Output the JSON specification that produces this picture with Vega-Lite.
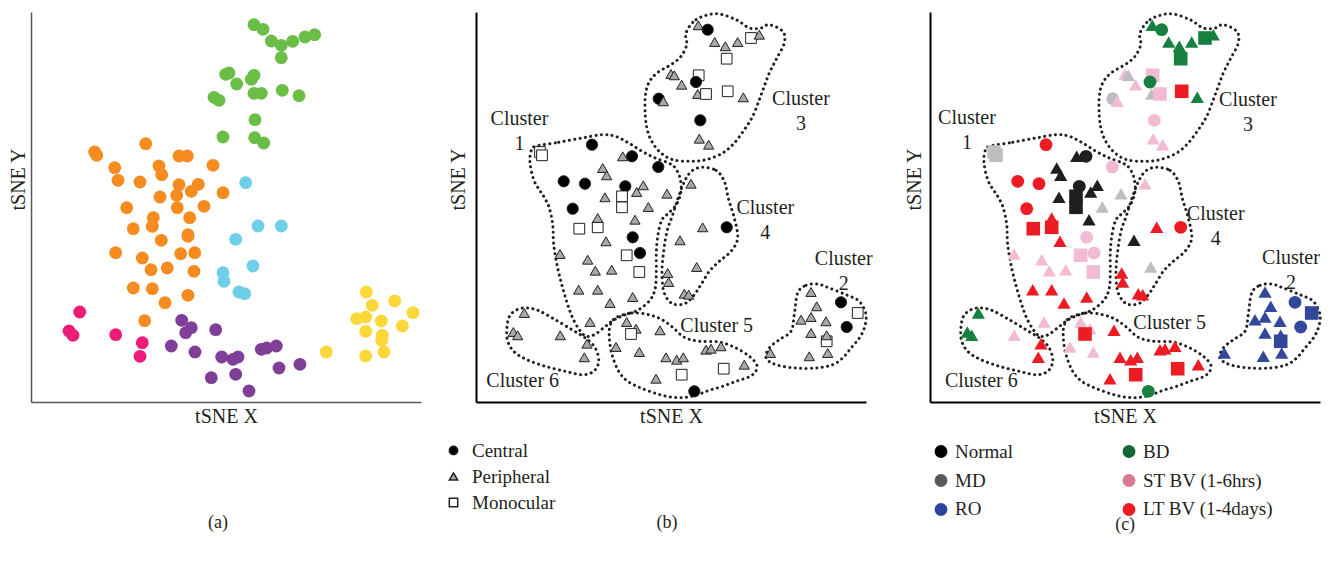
{
  "$schema": "https://vega.github.io/schema/vega-lite/v6.json",
  "background": "white",
  "padding": {"left": 8, "top": 7, "right": 5, "bottom": 5},
  "config": {
    "view": {"stroke": null},
    "font": "Liberation Serif",
    "axis": {"ticks": false, "labels": false, "grid": false, "titleFont": "Liberation Serif", "titleFontSize": 20, "titleFontWeight": "normal", "titleColor": "#231f20"},
    "title": {"font": "Liberation Serif", "fontSize": 18, "fontWeight": "normal", "color": "#231f20", "orient": "bottom", "anchor": "middle"},
    "legend": {"labelFont": "Liberation Serif", "labelFontSize": 19, "labelColor": "#231f20"}
  },
  "datasets": {
    "tsneA": [
      {"x":223,"y":377.3,"cl":"3"},{"x":232,"y":372.7,"cl":"3"},{"x":240.3,"y":361,"cl":"3"},{"x":250.3,"y":356.7,"cl":"3"},{"x":261.7,"y":360.7,"cl":"3"},{"x":274,"y":365,"cl":"3"},{"x":283.7,"y":367.3,"cl":"3"},{"x":250.3,"y":344.3,"cl":"3"},{"x":194.7,"y":327.7,"cl":"3"},{"x":198,"y":329,"cl":"3"},{"x":205.7,"y":318,"cl":"3"},{"x":220.3,"y":322.7,"cl":"3"},{"x":223,"y":326.7,"cl":"3"},{"x":223,"y":308.7,"cl":"3"},{"x":230.3,"y":308.7,"cl":"3"},{"x":251.3,"y":311.7,"cl":"3"},{"x":268,"y":306.3,"cl":"3"},{"x":183,"y":304.7,"cl":"3"},{"x":188,"y":301.7,"cl":"3"},{"x":224,"y":282.3,"cl":"3"},{"x":192,"y":265,"cl":"3"},{"x":223.7,"y":264.3,"cl":"3"},{"x":232.7,"y":259,"cl":"3"},
      {"x":114.7,"y":258.3,"cl":"1"},{"x":63.7,"y":250,"cl":"1"},{"x":65.7,"y":246.7,"cl":"1"},{"x":148,"y":246,"cl":"1"},{"x":156.3,"y":246,"cl":"1"},{"x":83.7,"y":234.3,"cl":"1"},{"x":128,"y":236,"cl":"1"},{"x":130.7,"y":227.3,"cl":"1"},{"x":182,"y":236.7,"cl":"1"},{"x":87,"y":221.7,"cl":"1"},{"x":109,"y":220,"cl":"1"},{"x":148,"y":217.3,"cl":"1"},{"x":167.3,"y":217.7,"cl":"1"},{"x":160.3,"y":210.7,"cl":"1"},{"x":145.7,"y":206.7,"cl":"1"},{"x":129,"y":205,"cl":"1"},{"x":192,"y":209.3,"cl":"1"},{"x":95.7,"y":194.3,"cl":"1"},{"x":146.3,"y":194.3,"cl":"1"},{"x":173,"y":195.7,"cl":"1"},{"x":122.3,"y":184.3,"cl":"1"},{"x":158.7,"y":184.3,"cl":"1"},{"x":102.3,"y":173.3,"cl":"1"},{"x":121.3,"y":175.7,"cl":"1"},{"x":157,"y":167.3,"cl":"1"},{"x":157,"y":165.7,"cl":"1"},{"x":130.3,"y":161.7,"cl":"1"},{"x":84.7,"y":149.3,"cl":"1"},{"x":149.7,"y":148.3,"cl":"1"},{"x":163.7,"y":149.3,"cl":"1"},{"x":111.3,"y":144,"cl":"1"},{"x":120,"y":132.3,"cl":"1"},{"x":136.3,"y":134,"cl":"1"},{"x":163,"y":130.7,"cl":"1"},{"x":102.3,"y":114,"cl":"1"},{"x":121.3,"y":113.3,"cl":"1"},{"x":157,"y":106.7,"cl":"1"},{"x":134,"y":99.3,"cl":"1"},{"x":113.7,"y":81.3,"cl":"1"},
      {"x":214.7,"y":219.3,"cl":"4"},{"x":227,"y":176,"cl":"4"},{"x":250.3,"y":176,"cl":"4"},{"x":204.7,"y":162.7,"cl":"4"},{"x":222,"y":136,"cl":"4"},{"x":192,"y":129.3,"cl":"4"},{"x":193,"y":120.7,"cl":"4"},{"x":208,"y":110,"cl":"4"},{"x":213.7,"y":108.3,"cl":"4"},
      {"x":48.7,"y":90,"cl":"6"},{"x":38,"y":71,"cl":"6"},{"x":42,"y":66.7,"cl":"6"},{"x":84.7,"y":67.3,"cl":"6"},{"x":111.3,"y":59.3,"cl":"6"},{"x":109,"y":45.7,"cl":"6"},
      {"x":150.7,"y":81.7,"cl":"5"},{"x":160.3,"y":74.3,"cl":"5"},{"x":154.7,"y":69.3,"cl":"5"},{"x":184.7,"y":72.3,"cl":"5"},{"x":140.3,"y":56,"cl":"5"},{"x":164,"y":50,"cl":"5"},{"x":190.7,"y":45,"cl":"5"},{"x":202,"y":42.7,"cl":"5"},{"x":207,"y":45,"cl":"5"},{"x":230.3,"y":52.7,"cl":"5"},{"x":235.7,"y":54,"cl":"5"},{"x":245.3,"y":56,"cl":"5"},{"x":269,"y":37.7,"cl":"5"},{"x":248,"y":34,"cl":"5"},{"x":204.7,"y":27.7,"cl":"5"},{"x":180.3,"y":24.3,"cl":"5"},{"x":218,"y":11,"cl":"5"},
      {"x":335.3,"y":110,"cl":"2"},{"x":341.3,"y":96.7,"cl":"2"},{"x":363.7,"y":101,"cl":"2"},{"x":382,"y":89.3,"cl":"2"},{"x":325.7,"y":83.3,"cl":"2"},{"x":334.7,"y":85,"cl":"2"},{"x":350.3,"y":81,"cl":"2"},{"x":371.3,"y":76,"cl":"2"},{"x":334.7,"y":70.7,"cl":"2"},{"x":351.3,"y":66.7,"cl":"2"},{"x":350.7,"y":61.7,"cl":"2"},{"x":295.3,"y":50,"cl":"2"},{"x":334.7,"y":46,"cl":"2"},{"x":353,"y":50,"cl":"2"}
    ],
    "points": [
      {"x":222.3,"y":376.7,"type":"Peripheral","group":"BD"},
      {"x":231.7,"y":372.3,"type":"Central","group":"BD"},
      {"x":238.7,"y":360,"type":"Peripheral","group":"BD"},
      {"x":249.3,"y":355.7,"type":"Peripheral","group":"BD"},
      {"x":261.7,"y":360,"type":"Peripheral","group":"BD"},
      {"x":275,"y":364,"type":"Monocular","group":"BD"},
      {"x":283.3,"y":367.3,"type":"Peripheral","group":"BD"},
      {"x":250.7,"y":343.3,"type":"Monocular","group":"BD"},
      {"x":195,"y":328,"type":"Peripheral","group":"ST BV (1-6hrs)"},
      {"x":198.3,"y":326.7,"type":"Peripheral","group":"MD"},
      {"x":205.7,"y":317.3,"type":"Peripheral","group":"ST BV (1-6hrs)"},
      {"x":222.7,"y":326.7,"type":"Monocular","group":"ST BV (1-6hrs)"},
      {"x":220,"y":320,"type":"Central","group":"BD"},
      {"x":221.7,"y":308,"type":"Peripheral","group":"MD"},
      {"x":230,"y":308,"type":"Monocular","group":"ST BV (1-6hrs)"},
      {"x":251.7,"y":310.7,"type":"Monocular","group":"LT BV (1-4days)"},
      {"x":267.3,"y":304.7,"type":"Peripheral","group":"BD"},
      {"x":182.7,"y":303.3,"type":"Central","group":"MD"},
      {"x":187.3,"y":300.7,"type":"Peripheral","group":"ST BV (1-6hrs)"},
      {"x":224.3,"y":281.7,"type":"Central","group":"ST BV (1-6hrs)"},
      {"x":223.3,"y":263.3,"type":"Peripheral","group":"ST BV (1-6hrs)"},
      {"x":232.7,"y":257.3,"type":"Peripheral","group":"ST BV (1-6hrs)"},
      {"x":64,"y":250,"type":"Monocular","group":"MD"},
      {"x":66,"y":246.7,"type":"Monocular","group":"MD"},
      {"x":116,"y":257.3,"type":"Central","group":"LT BV (1-4days)"},
      {"x":146.7,"y":245.7,"type":"Peripheral","group":"Normal"},
      {"x":156,"y":245.7,"type":"Central","group":"Normal"},
      {"x":182.3,"y":235,"type":"Central","group":"ST BV (1-6hrs)"},
      {"x":126.7,"y":234,"type":"Peripheral","group":"Normal"},
      {"x":130.7,"y":226.7,"type":"Peripheral","group":"Normal"},
      {"x":87.7,"y":220.7,"type":"Central","group":"LT BV (1-4days)"},
      {"x":109,"y":218.3,"type":"Central","group":"LT BV (1-4days)"},
      {"x":149.3,"y":215.7,"type":"Central","group":"Normal"},
      {"x":167.3,"y":216.7,"type":"Peripheral","group":"Normal"},
      {"x":160.7,"y":210,"type":"Peripheral","group":"Normal"},
      {"x":129,"y":204.7,"type":"Peripheral","group":"Normal"},
      {"x":146,"y":205.7,"type":"Monocular","group":"Normal"},
      {"x":146,"y":194.7,"type":"Monocular","group":"Normal"},
      {"x":191,"y":208.3,"type":"Peripheral","group":"MD"},
      {"x":215,"y":218.3,"type":"Peripheral","group":"ST BV (1-6hrs)"},
      {"x":96.7,"y":193.3,"type":"Central","group":"LT BV (1-4days)"},
      {"x":172.3,"y":195,"type":"Peripheral","group":"MD"},
      {"x":159,"y":182.3,"type":"Peripheral","group":"Normal"},
      {"x":103.3,"y":173.3,"type":"Monocular","group":"LT BV (1-4days)"},
      {"x":121.7,"y":174.7,"type":"Monocular","group":"LT BV (1-4days)"},
      {"x":121.7,"y":184,"type":"Peripheral","group":"LT BV (1-4days)"},
      {"x":156.7,"y":164.7,"type":"Central","group":"ST BV (1-6hrs)"},
      {"x":130,"y":160.7,"type":"Peripheral","group":"LT BV (1-4days)"},
      {"x":164,"y":149,"type":"Central","group":"ST BV (1-6hrs)"},
      {"x":150.7,"y":146.7,"type":"Monocular","group":"ST BV (1-6hrs)"},
      {"x":163.3,"y":130,"type":"Monocular","group":"ST BV (1-6hrs)"},
      {"x":84,"y":148,"type":"Peripheral","group":"ST BV (1-6hrs)"},
      {"x":111.7,"y":142.3,"type":"Peripheral","group":"ST BV (1-6hrs)"},
      {"x":119.3,"y":131.3,"type":"Peripheral","group":"ST BV (1-6hrs)"},
      {"x":135.7,"y":132.3,"type":"Peripheral","group":"ST BV (1-6hrs)"},
      {"x":102.7,"y":112.3,"type":"Peripheral","group":"LT BV (1-4days)"},
      {"x":121.7,"y":112.3,"type":"Peripheral","group":"LT BV (1-4days)"},
      {"x":134,"y":99,"type":"Peripheral","group":"LT BV (1-4days)"},
      {"x":156.7,"y":105,"type":"Peripheral","group":"LT BV (1-4days)"},
      {"x":114,"y":80,"type":"Peripheral","group":"ST BV (1-6hrs)"},
      {"x":204,"y":161.7,"type":"Peripheral","group":"Normal"},
      {"x":226.7,"y":174.7,"type":"Peripheral","group":"LT BV (1-4days)"},
      {"x":250.7,"y":174.7,"type":"Central","group":"LT BV (1-4days)"},
      {"x":220.7,"y":135,"type":"Peripheral","group":"MD"},
      {"x":191.7,"y":129,"type":"Peripheral","group":"LT BV (1-4days)"},
      {"x":192.7,"y":120,"type":"Peripheral","group":"LT BV (1-4days)"},
      {"x":208.3,"y":108.3,"type":"Peripheral","group":"LT BV (1-4days)"},
      {"x":212.7,"y":107.3,"type":"Peripheral","group":"LT BV (1-4days)"},
      {"x":150.7,"y":80,"type":"Peripheral","group":"ST BV (1-6hrs)"},
      {"x":160,"y":73.3,"type":"Peripheral","group":"ST BV (1-6hrs)"},
      {"x":155,"y":68,"type":"Monocular","group":"LT BV (1-4days)"},
      {"x":184,"y":71.7,"type":"Peripheral","group":"LT BV (1-4days)"},
      {"x":140,"y":55,"type":"Peripheral","group":"ST BV (1-6hrs)"},
      {"x":163.3,"y":50,"type":"Peripheral","group":"ST BV (1-6hrs)"},
      {"x":190,"y":44.7,"type":"Peripheral","group":"LT BV (1-4days)"},
      {"x":200.7,"y":42.3,"type":"Peripheral","group":"LT BV (1-4days)"},
      {"x":207.3,"y":44.7,"type":"Peripheral","group":"LT BV (1-4days)"},
      {"x":230,"y":52.3,"type":"Peripheral","group":"LT BV (1-4days)"},
      {"x":235,"y":53.3,"type":"Peripheral","group":"LT BV (1-4days)"},
      {"x":245,"y":55.7,"type":"Peripheral","group":"LT BV (1-4days)"},
      {"x":247.7,"y":33.3,"type":"Monocular","group":"LT BV (1-4days)"},
      {"x":268.3,"y":37.3,"type":"Peripheral","group":"LT BV (1-4days)"},
      {"x":205.7,"y":27.3,"type":"Monocular","group":"LT BV (1-4days)"},
      {"x":180,"y":23.3,"type":"Peripheral","group":"LT BV (1-4days)"},
      {"x":218.3,"y":10.7,"type":"Central","group":"BD"},
      {"x":48.3,"y":89,"type":"Peripheral","group":"BD"},
      {"x":37.3,"y":70,"type":"Peripheral","group":"BD"},
      {"x":41.7,"y":66.7,"type":"Peripheral","group":"BD"},
      {"x":84.3,"y":66.7,"type":"Peripheral","group":"ST BV (1-6hrs)"},
      {"x":111,"y":58.3,"type":"Peripheral","group":"LT BV (1-4days)"},
      {"x":108.3,"y":44.7,"type":"Peripheral","group":"LT BV (1-4days)"},
      {"x":335,"y":110,"type":"Peripheral","group":"RO"},
      {"x":340.7,"y":95.7,"type":"Peripheral","group":"RO"},
      {"x":325,"y":82.3,"type":"Peripheral","group":"RO"},
      {"x":335,"y":85,"type":"Peripheral","group":"RO"},
      {"x":350,"y":80.7,"type":"Peripheral","group":"RO"},
      {"x":335,"y":69,"type":"Peripheral","group":"RO"},
      {"x":350.7,"y":60.7,"type":"Monocular","group":"RO"},
      {"x":350.7,"y":66.7,"type":"Peripheral","group":"RO"},
      {"x":351.7,"y":49,"type":"Peripheral","group":"RO"},
      {"x":333.3,"y":45.7,"type":"Peripheral","group":"RO"},
      {"x":294.3,"y":49,"type":"Peripheral","group":"RO"},
      {"x":365,"y":99.7,"type":"Central","group":"RO"},
      {"x":381.7,"y":89,"type":"Monocular","group":"RO"},
      {"x":370.7,"y":75,"type":"Central","group":"RO"}
    ],
    "outlines": [
      {"c":"1","i":0,"x":59.3,"y":255.7},{"c":"1","i":1,"x":82.7,"y":259.7},{"c":"1","i":2,"x":106,"y":264},{"c":"1","i":3,"x":126,"y":267.3},{"c":"1","i":4,"x":139.3,"y":265.7},{"c":"1","i":5,"x":152.7,"y":259},{"c":"1","i":6,"x":166,"y":250.7},{"c":"1","i":7,"x":179.3,"y":244},{"c":"1","i":8,"x":192.7,"y":239},{"c":"1","i":9,"x":199.3,"y":234},{"c":"1","i":10,"x":204,"y":224},{"c":"1","i":11,"x":205,"y":210.7},{"c":"1","i":12,"x":200.7,"y":198},{"c":"1","i":13,"x":192.7,"y":189},{"c":"1","i":14,"x":186,"y":182.3},{"c":"1","i":15,"x":182,"y":167.3},{"c":"1","i":16,"x":180.3,"y":149},{"c":"1","i":17,"x":180.3,"y":130.7},{"c":"1","i":18,"x":179.3,"y":114},{"c":"1","i":19,"x":174.3,"y":102.3},{"c":"1","i":20,"x":162.7,"y":92.3},{"c":"1","i":21,"x":149.3,"y":87.3},{"c":"1","i":22,"x":138.3,"y":82.3},{"c":"1","i":23,"x":128.3,"y":74.7},{"c":"1","i":24,"x":118.3,"y":67.3},{"c":"1","i":25,"x":110,"y":65.7},{"c":"1","i":26,"x":103.3,"y":72.3},{"c":"1","i":27,"x":96.7,"y":84},{"c":"1","i":28,"x":91.7,"y":97.3},{"c":"1","i":29,"x":86.7,"y":114},{"c":"1","i":30,"x":81.7,"y":134},{"c":"1","i":31,"x":77.7,"y":157.3},{"c":"1","i":32,"x":76.7,"y":177.3},{"c":"1","i":33,"x":73.3,"y":194},{"c":"1","i":34,"x":68.3,"y":204.7},{"c":"1","i":35,"x":63.3,"y":212.3},{"c":"1","i":36,"x":57.7,"y":222.3},{"c":"1","i":37,"x":54,"y":239},{"c":"1","i":38,"x":55,"y":250.7},
      {"c":"2","i":0,"x":321.7,"y":109},{"c":"2","i":1,"x":330,"y":116.7},{"c":"2","i":2,"x":341.7,"y":118},{"c":"2","i":3,"x":353.3,"y":114},{"c":"2","i":4,"x":370,"y":107.3},{"c":"2","i":5,"x":383.3,"y":100.7},{"c":"2","i":6,"x":390,"y":87.3},{"c":"2","i":7,"x":388.3,"y":74},{"c":"2","i":8,"x":383.3,"y":64},{"c":"2","i":9,"x":375,"y":54},{"c":"2","i":10,"x":366.7,"y":44},{"c":"2","i":11,"x":356.7,"y":37.3},{"c":"2","i":12,"x":340,"y":34},{"c":"2","i":13,"x":320,"y":34},{"c":"2","i":14,"x":300,"y":37.3},{"c":"2","i":15,"x":290,"y":44},{"c":"2","i":16,"x":293.3,"y":54},{"c":"2","i":17,"x":303.3,"y":62.3},{"c":"2","i":18,"x":315,"y":70.7},{"c":"2","i":19,"x":318.3,"y":87.3},
      {"c":"3","i":0,"x":210,"y":369},{"c":"3","i":1,"x":220,"y":382.3},{"c":"3","i":2,"x":240,"y":388.3},{"c":"3","i":3,"x":260,"y":382.3},{"c":"3","i":4,"x":273.3,"y":374},{"c":"3","i":5,"x":285,"y":374},{"c":"3","i":6,"x":293.3,"y":377.3},{"c":"3","i":7,"x":306.7,"y":370.7},{"c":"3","i":8,"x":308.3,"y":359},{"c":"3","i":9,"x":300,"y":342.3},{"c":"3","i":10,"x":293.3,"y":329},{"c":"3","i":11,"x":288.3,"y":315.7},{"c":"3","i":12,"x":283.3,"y":302.3},{"c":"3","i":13,"x":276.7,"y":285.7},{"c":"3","i":14,"x":268.3,"y":272.3},{"c":"3","i":15,"x":258.3,"y":259},{"c":"3","i":16,"x":246.7,"y":249},{"c":"3","i":17,"x":230,"y":242.3},{"c":"3","i":18,"x":213.3,"y":240.7},{"c":"3","i":19,"x":196.7,"y":242.3},{"c":"3","i":20,"x":185,"y":249},{"c":"3","i":21,"x":176.7,"y":259},{"c":"3","i":22,"x":171.7,"y":270.7},{"c":"3","i":23,"x":169.3,"y":285.7},{"c":"3","i":24,"x":169.3,"y":305.7},{"c":"3","i":25,"x":172.7,"y":319},{"c":"3","i":26,"x":181,"y":329},{"c":"3","i":27,"x":196,"y":338},{"c":"3","i":28,"x":205,"y":345.7},{"c":"3","i":29,"x":210.7,"y":357.3},
      {"c":"4","i":0,"x":226.7,"y":234.7},{"c":"4","i":1,"x":240,"y":231.7},{"c":"4","i":2,"x":248.3,"y":220.7},{"c":"4","i":3,"x":252.7,"y":202.3},{"c":"4","i":4,"x":258.3,"y":184},{"c":"4","i":5,"x":261.7,"y":164},{"c":"4","i":6,"x":255,"y":150.7},{"c":"4","i":7,"x":243.3,"y":140.7},{"c":"4","i":8,"x":233.3,"y":130.7},{"c":"4","i":9,"x":225,"y":117.3},{"c":"4","i":10,"x":218.3,"y":107.3},{"c":"4","i":11,"x":210,"y":99},{"c":"4","i":12,"x":200,"y":97.3},{"c":"4","i":13,"x":192.7,"y":101.3},{"c":"4","i":14,"x":187.3,"y":112.3},{"c":"4","i":15,"x":186,"y":130.7},{"c":"4","i":16,"x":187.7,"y":150.7},{"c":"4","i":17,"x":191,"y":170.7},{"c":"4","i":18,"x":196.7,"y":187.3},{"c":"4","i":19,"x":202.7,"y":205.7},{"c":"4","i":20,"x":209.3,"y":222.3},{"c":"4","i":21,"x":216.7,"y":231.7},
      {"c":"5","i":0,"x":139.3,"y":84},{"c":"5","i":1,"x":156,"y":89},{"c":"5","i":2,"x":172.7,"y":87.3},{"c":"5","i":3,"x":186,"y":82.3},{"c":"5","i":4,"x":196.7,"y":74.7},{"c":"5","i":5,"x":208.3,"y":64.7},{"c":"5","i":6,"x":223.3,"y":60.7},{"c":"5","i":7,"x":243.3,"y":60},{"c":"5","i":8,"x":260,"y":54},{"c":"5","i":9,"x":273.3,"y":45.7},{"c":"5","i":10,"x":280.7,"y":37.3},{"c":"5","i":11,"x":279.3,"y":30},{"c":"5","i":12,"x":272.7,"y":25},{"c":"5","i":13,"x":260,"y":20.7},{"c":"5","i":14,"x":246.7,"y":15.7},{"c":"5","i":15,"x":233.3,"y":11.7},{"c":"5","i":16,"x":221.7,"y":7.3},{"c":"5","i":17,"x":210,"y":4.7},{"c":"5","i":18,"x":196.7,"y":4.7},{"c":"5","i":19,"x":181.7,"y":8},{"c":"5","i":20,"x":165,"y":14},{"c":"5","i":21,"x":151.7,"y":20.7},{"c":"5","i":22,"x":142.7,"y":30.7},{"c":"5","i":23,"x":136,"y":47.3},{"c":"5","i":24,"x":133.3,"y":64},{"c":"5","i":25,"x":134,"y":75.7},
      {"c":"6","i":0,"x":32.7,"y":84},{"c":"6","i":1,"x":41,"y":92.3},{"c":"6","i":2,"x":51,"y":94},{"c":"6","i":3,"x":62.7,"y":91.3},{"c":"6","i":4,"x":79.3,"y":82.3},{"c":"6","i":5,"x":96,"y":72.3},{"c":"6","i":6,"x":109.3,"y":64},{"c":"6","i":7,"x":119.3,"y":54},{"c":"6","i":8,"x":122.7,"y":40.7},{"c":"6","i":9,"x":117.7,"y":30.7},{"c":"6","i":10,"x":106,"y":27.3},{"c":"6","i":11,"x":89.3,"y":30.7},{"c":"6","i":12,"x":69.3,"y":35.7},{"c":"6","i":13,"x":51,"y":42.3},{"c":"6","i":14,"x":37.7,"y":50.7},{"c":"6","i":15,"x":31,"y":64}
    ],
    "labelsB": [
      {"label":"Cluster\n1","x":43.5,"y":283.2},
      {"label":"Cluster\n2","x":367.7,"y":143.5},
      {"label":"Cluster\n3","x":325,"y":302.7},
      {"label":"Cluster\n4","x":289.3,"y":193.7},
      {"label":"Cluster 5","x":240.7,"y":75.7},
      {"label":"Cluster 6","x":46.7,"y":20.7}
    ],
    "labelsC": [
      {"label":"Cluster\n1","x":37,"y":283.8},
      {"label":"Cluster\n2","x":361,"y":144.5},
      {"label":"Cluster\n3","x":318,"y":302.3},
      {"label":"Cluster\n4","x":285.7,"y":187.7},
      {"label":"Cluster 5","x":239.7,"y":79.3},
      {"label":"Cluster 6","x":51.3,"y":21}
    ],
    "keyC": [
      {"group":"Normal","col":0,"row":0},
      {"group":"MD","col":0,"row":1},
      {"group":"RO","col":0,"row":2},
      {"group":"BD","col":1,"row":0},
      {"group":"ST BV (1-6hrs)","col":1,"row":1},
      {"group":"LT BV (1-4days)","col":1,"row":2}
    ]
  },
  "hconcat": [
    {
      "width": 390,
      "height": 390,
      "title": {"text": "(a)", "offset": 88, "dx": -8},
      "data": {"name": "tsneA"},
      "mark": {"type": "point", "filled": true, "opacity": 1, "size": 165},
      "encoding": {
        "x": {"field": "x", "type": "quantitative", "scale": {"domain": [0, 390], "nice": false, "zero": false},
              "axis": {"title": "tSNE X", "domainColor": "#58595b", "domainWidth": 1.5, "titlePadding": 4}},
        "y": {"field": "y", "type": "quantitative", "scale": {"domain": [0, 390], "nice": false, "zero": false},
              "axis": {"title": "tSNE Y", "domainColor": "#58595b", "domainWidth": 1.5, "titlePadding": 3, "titleY": 167}},
        "color": {"field": "cl", "type": "nominal", "legend": null,
                  "scale": {"domain": ["1", "2", "3", "4", "5", "6"],
                            "range": ["#f68b1f", "#fbd73a", "#6abd45", "#6dcfe8", "#7f3f98", "#ec1c78"]}}
      }
    },
    {
      "hconcat": [
        {
          "width": 390,
          "height": 390,
          "title": {"text": "(b)", "offset": 1, "dx": -4},
          "encoding": {
            "x": {"field": "x", "type": "quantitative", "scale": {"domain": [0, 390], "nice": false, "zero": false},
                  "axis": {"title": "tSNE X", "domainColor": "#000000", "domainWidth": 2, "titlePadding": 4}},
            "y": {"field": "y", "type": "quantitative", "scale": {"domain": [0, 390], "nice": false, "zero": false},
                  "axis": {"title": "tSNE Y", "domainColor": "#000000", "domainWidth": 2, "titlePadding": 8, "titleY": 167}}
          },
          "layer": [
            {
              "data": {"name": "outlines"},
              "mark": {"type": "line", "interpolate": "cardinal-closed", "strokeDash": [0.1, 5.3], "strokeCap": "round", "strokeWidth": 3, "color": "#231f20"},
              "encoding": {"detail": {"field": "c"}, "order": {"field": "i", "type": "quantitative"}}
            },
            {
              "data": {"name": "points"},
              "mark": {"type": "point", "opacity": 1, "stroke": "#231f20", "strokeWidth": 1},
              "encoding": {
                "shape": {"field": "type", "type": "nominal",
                          "scale": {"domain": ["Central", "Peripheral", "Monocular"], "range": ["circle", "triangle-up", "square"]},
                          "legend": {"title": null, "orient": "none", "legendX": -32, "legendY": 429, "symbolSize": 70, "rowPadding": 6, "labelOffset": 9, "labelFont": "Liberation Serif", "labelFontSize": 19}},
                "fill": {"field": "type", "type": "nominal",
                         "scale": {"domain": ["Central", "Peripheral", "Monocular"], "range": ["#000000", "#a7a9ac", "#ffffff"]},
                         "legend": {"title": null, "orient": "none", "legendX": -32, "legendY": 429, "symbolSize": 70, "rowPadding": 6, "labelOffset": 9, "labelFont": "Liberation Serif", "labelFontSize": 19}},
                "size": {"field": "type", "type": "nominal", "legend": null,
                         "scale": {"range": [125, 105, 160]}}
              }
            },
            {
              "data": {"name": "labelsB"},
              "mark": {"type": "text", "font": "Liberation Serif", "fontSize": 20, "lineBreak": "\n", "lineHeight": 25, "color": "#231f20"},
              "encoding": {"text": {"field": "label"}}
            }
          ]
        },
        {
          "title": {"text": "(c)", "offset": -4, "dx": 10},
          "vconcat": [
            {
              "width": 390,
              "height": 390,
              "encoding": {
                "x": {"field": "x", "type": "quantitative", "scale": {"domain": [0, 390], "nice": false, "zero": false},
                      "axis": {"title": "tSNE X", "domainColor": "#000000", "domainWidth": 2, "titlePadding": 4}},
                "y": {"field": "y", "type": "quantitative", "scale": {"domain": [0, 390], "nice": false, "zero": false},
                      "axis": {"title": "tSNE Y", "domainColor": "#000000", "domainWidth": 2, "titlePadding": 6, "titleY": 167}}
              },
              "layer": [
                {
                  "data": {"name": "outlines"},
                  "mark": {"type": "line", "interpolate": "cardinal-closed", "strokeDash": [0.1, 5.3], "strokeCap": "round", "strokeWidth": 3, "color": "#231f20"},
                  "encoding": {"detail": {"field": "c"}, "order": {"field": "i", "type": "quantitative"}}
                },
                {
                  "data": {"name": "points"},
                  "mark": {"type": "point", "filled": true, "opacity": 1},
                  "encoding": {
                    "shape": {"field": "type", "type": "nominal", "legend": null,
                              "scale": {"domain": ["Central", "Peripheral", "Monocular"], "range": ["circle", "triangle-up", "square"]}},
                    "size": {"field": "type", "type": "nominal", "legend": null,
                             "scale": {"domain": ["Central", "Peripheral", "Monocular"], "range": [165, 185, 165]}},
                    "color": {"field": "group", "type": "nominal", "legend": null,
                              "scale": {"domain": ["Normal", "MD", "RO", "BD", "ST BV (1-6hrs)", "LT BV (1-4days)"],
                                        "range": ["#1f1f1f", "#bcbec0", "#33479b", "#158040", "#f2bbd3", "#ed1c24"]}}
                  }
                },
                {
                  "data": {"name": "labelsC"},
                  "mark": {"type": "text", "font": "Liberation Serif", "fontSize": 20, "lineBreak": "\n", "lineHeight": 25, "color": "#231f20"},
                  "encoding": {"text": {"field": "label"}}
                }
              ]
            },
            {
              "width": 390,
              "height": 80,
              "data": {"name": "keyC"},
              "encoding": {
                "x": {"field": "col", "type": "quantitative", "axis": null,
                      "scale": {"domain": [-0.0585, 2.016], "nice": false, "zero": false}},
                "y": {"field": "row", "type": "quantitative", "axis": null,
                      "scale": {"domain": [-0.414, 2.345], "nice": false, "zero": false, "reverse": true}}
              },
              "layer": [
                {
                  "mark": {"type": "point", "shape": "circle", "filled": true, "opacity": 1, "size": 165},
                  "encoding": {
                    "color": {"field": "group", "type": "nominal", "legend": null,
                              "scale": {"domain": ["Normal", "MD", "RO", "BD", "ST BV (1-6hrs)", "LT BV (1-4days)"],
                                        "range": ["#000000", "#58595b", "#2f4597", "#166534", "#d9788f", "#ec1c24"]}}
                  }
                },
                {
                  "mark": {"type": "text", "align": "left", "baseline": "middle", "dx": 14, "font": "Liberation Serif", "fontSize": 19, "color": "#231f20"},
                  "encoding": {"text": {"field": "group"}}
                }
              ]
            }
          ],
          "spacing": 37.5,
          "bounds": "flush",
          "resolve": {"scale": {"x": "independent", "y": "independent", "color": "independent"}}
        }
      ],
      "spacing": 64,
      "bounds": "flush",
      "resolve": {
        "scale": {"color": "independent", "shape": "independent", "fill": "independent", "size": "independent"},
        "legend": {"color": "independent", "shape": "independent", "fill": "independent", "size": "independent"}
      }
    }
  ],
  "spacing": 55,
  "bounds": "flush",
  "resolve": {
    "scale": {"color": "independent", "shape": "independent", "fill": "independent", "size": "independent"},
    "legend": {"color": "independent", "shape": "independent", "fill": "independent", "size": "independent"}
  }
}
